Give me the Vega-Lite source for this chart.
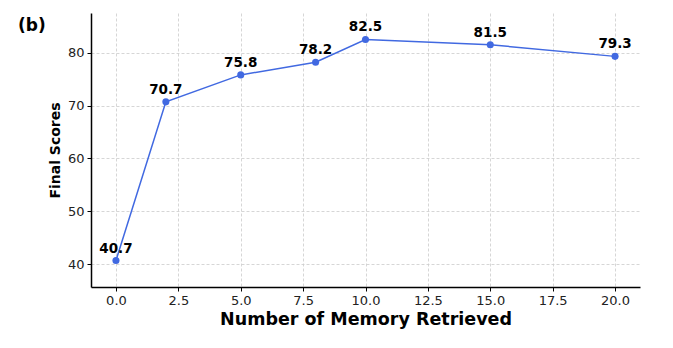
{
  "$schema": "https://vega.github.io/schema/vega-lite/v6.json",
  "width": 549,
  "height": 274,
  "autosize": {"type": "none"},
  "padding": {"left": 91, "top": 13, "right": 33, "bottom": 61},
  "background": "white",
  "config": {
    "view": {"stroke": null},
    "font": "DejaVu Sans",
    "axis": {
      "domainColor": "black",
      "domainWidth": 1.5,
      "tickColor": "black",
      "tickWidth": 1,
      "tickSize": 4,
      "labelFont": "DejaVu Sans",
      "labelFontSize": 13,
      "labelColor": "#222222",
      "titleFont": "DejaVu Sans",
      "titleColor": "black",
      "gridColor": "#cccccc",
      "gridDash": [3, 2],
      "gridWidth": 0.8
    }
  },
  "title": {
    "text": "(b)",
    "anchor": "start",
    "frame": "group",
    "orient": "top",
    "font": "DejaVu Sans",
    "fontSize": 17,
    "fontWeight": "bold",
    "color": "black",
    "dx": -73,
    "dy": 22,
    "offset": 0
  },
  "data": {
    "values": [
      {"memory": 0, "score": 40.7},
      {"memory": 2, "score": 70.7},
      {"memory": 5, "score": 75.8},
      {"memory": 8, "score": 78.2},
      {"memory": 10, "score": 82.5},
      {"memory": 15, "score": 81.5},
      {"memory": 20, "score": 79.3}
    ]
  },
  "encoding": {
    "x": {
      "field": "memory",
      "type": "quantitative",
      "scale": {"domain": [-1, 21], "nice": false, "zero": false},
      "axis": {
        "values": [0, 2.5, 5, 7.5, 10, 12.5, 15, 17.5, 20],
        "format": ".1f",
        "title": "Number of Memory Retrieved",
        "titleFontSize": 17.5,
        "titleFontWeight": "bold",
        "titlePadding": 3,
        "labelPadding": 3
      }
    },
    "y": {
      "field": "score",
      "type": "quantitative",
      "scale": {"domain": [35.7, 87.5], "nice": false, "zero": false},
      "axis": {
        "values": [40, 50, 60, 70, 80],
        "title": "Final Scores",
        "titleFontSize": 14,
        "titleFontWeight": "bold",
        "titlePadding": 5,
        "labelPadding": 3
      }
    }
  },
  "layer": [
    {
      "mark": {"type": "line", "color": "#4169E1", "strokeWidth": 1.5}
    },
    {
      "mark": {"type": "point", "filled": true, "color": "#4169E1", "size": 50, "opacity": 1}
    },
    {
      "mark": {"type": "text", "dy": -12, "fontSize": 13.5, "fontWeight": "bold", "color": "black", "font": "DejaVu Sans"},
      "encoding": {"text": {"field": "score", "type": "quantitative", "format": ".1f"}}
    }
  ]
}
